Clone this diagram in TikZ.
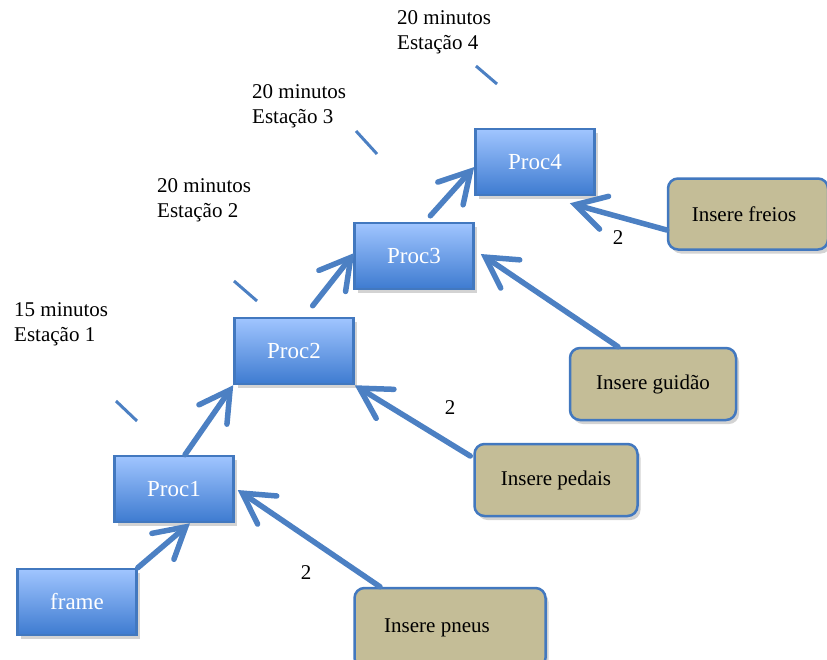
\documentclass[tikz,border=0pt]{standalone}
\usepackage{fontspec}
\setmainfont{Liberation Serif}
\usetikzlibrary{arrows.meta,shadows,calc}
\definecolor{bord}{HTML}{4278BF}
\definecolor{arr}{HTML}{4C80C3}
\definecolor{gtop}{HTML}{A0C5FF}
\definecolor{gbot}{HTML}{3E7BD0}
\definecolor{tan}{HTML}{C4BD97}
\begin{document}
\begin{tikzpicture}[x=1pt,y=-1pt,
  procbox/.style={draw=bord,line width=2.5pt,top color=gtop,bottom color=gbot,
    minimum width=119pt,minimum height=66pt,inner sep=0pt,text=white,
    font=\fontsize{23}{26}\selectfont,
    drop shadow={opacity=0.35,shadow xshift=3pt,shadow yshift=-4pt}},
  insbox/.style={draw=bord,line width=2.5pt,fill=tan,rounded corners=10pt,
    inner sep=0pt,font=\fontsize{21}{24}\selectfont,
    drop shadow={opacity=0.35,shadow xshift=3pt,shadow yshift=-4pt}},
  conn/.style={draw=arr,line width=5.5pt,line cap=round,
    -{Straight Barb[length=30pt,width=34pt,line width=5.5pt,line cap=round]}},
  tick/.style={draw=arr,line width=3pt},
  lbl/.style={font=\fontsize{21}{25}\selectfont,align=left,anchor=north west,inner sep=0pt},
  num/.style={font=\fontsize{21}{24}\selectfont,inner sep=0pt}]
\useasboundingbox (0,0) rectangle (827,659);
% boxes
\node[procbox] (fr) at (77,602) {frame};
\node[procbox] (p1) at (174,489) {Proc1};
\node[procbox] (p2) at (294,351) {Proc2};
\node[procbox] (p3) at (414,256) {Proc3};
\node[procbox] (p4) at (535,162) {Proc4};
\node[insbox,minimum width=160pt,minimum height=71pt] (fre) at (748,214) {\hspace*{-8pt}Insere freios};
\node[insbox,minimum width=166pt,minimum height=72pt] (gui) at (653,384) {Insere guidão};
\node[insbox,minimum width=163pt,minimum height=72pt] (ped) at (556,480) {Insere pedais};
\node[insbox,minimum width=191pt,minimum height=80pt] (pne) at (450,628) {\raisebox{3pt}{\hspace*{-26pt}Insere pneus}};
% connectors
\draw[conn] (fr.north east) -- ($(p1.south)+(16,0)$);
\draw[conn] ($(p1.north)+(11,0)$) -- (p2.south west);
\draw[conn,shorten <=14pt] ($(p2.north)+(10,0)$) -- ($(p3.west)+(1,-3)$);
\draw[conn,shorten <=8pt] ($(p3.north)+(11,0)$) -- ($(p4.west)+(0,5)$);
\draw[conn] ($(fre.west)+(0,16)$) -- ($(p4.south east)+(-26,7)$);
\draw[conn] ($(gui.north)+(-35,0)$) -- ($(p3.east)+(6,-2)$);
\draw[conn] ($(ped.west)+(-3,-24)$) -- (p2.south east);
\draw[conn] ($(pne.north)+(-70,0)$) -- ($(p1.east)+(3,1)$);
% labels
\node[num] (n1) at (618,238) {2};
\node[num] (n2) at (450,408) {2};
\node[num] (n3) at (306,573) {2};
\node[lbl] (l1) at (14,302) {15 minutos\\Estação 1};
\node[lbl] (l2) at (157,178) {20 minutos\\Estação 2};
\node[lbl] (l3) at (252,84) {20 minutos\\Estação 3};
\node[lbl] (l4) at (397,10) {20 minutos\\Estação 4};
% ticks
\coordinate (t1a) at (116,401); \coordinate (t1b) at (137,421);
\coordinate (t2a) at (234,281); \coordinate (t2b) at (257,301);
\coordinate (t3a) at (356,131); \coordinate (t3b) at (377,154);
\coordinate (t4a) at (476,66); \coordinate (t4b) at (497,84);
\draw[tick] (t1a) -- (t1b);
\draw[tick] (t2a) -- (t2b);
\draw[tick] (t3a) -- (t3b);
\draw[tick] (t4a) -- (t4b);
\end{tikzpicture}
\end{document}
